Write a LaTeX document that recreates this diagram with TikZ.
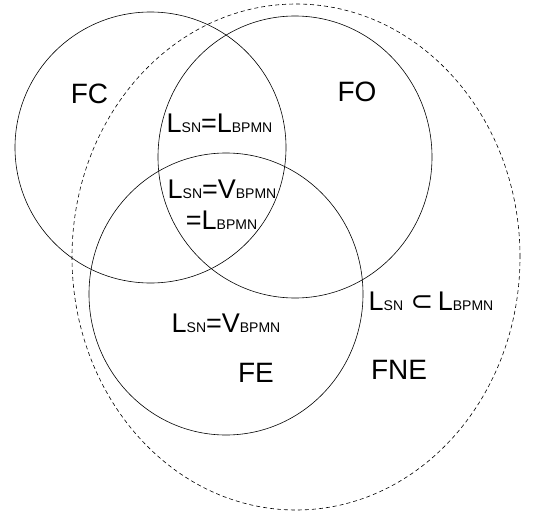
\documentclass[tikz,border=0pt]{standalone}
\usepackage{fontspec}
\setmainfont{Liberation Sans}
\newfontfamily\symfont{DejaVu Sans}
\usepackage{tikz}

\newcommand{\lab}[1]{{\fontsize{14}{14}\selectfont #1}}
\newcommand{\lsn}{L\lab{SN}}
\newcommand{\lbpmn}{L\lab{BPMN}}
\newcommand{\vbpmn}{V\lab{BPMN}}

\begin{document}
\begin{tikzpicture}[x=1pt,y=1pt]
          \tikzstyle{every node}+=[inner sep=0pt]
          \tikzstyle{setname}=[anchor=base,font=\fontsize{28}{30}\selectfont]
          \tikzstyle{lang}=[anchor=base,font=\fontsize{27}{29}\selectfont]
          \useasboundingbox (0,0) rectangle (540,-511);
          % sets
          \draw [black,line width=0.6pt] (150.5,-147.5) ellipse (135.5 and 135.5);
          \draw [black,line width=0.6pt] (295,-157) ellipse (137 and 141);
          \draw [black,line width=0.6pt] (226,-294) ellipse (137 and 141);
          \draw [black,line width=0.6pt,dash pattern=on 4pt off 3pt] (296,-257) ellipse (224 and 253);
          % labels
          \node [setname] (fc) at (89.5,-103) {FC};
          \node [setname] (fo) at (357,-101) {FO};
          \node [setname] (fe) at (256,-382) {FE};
          \node [setname] (fne) at (399,-379) {FNE};
          \node [lang] (co) at (219.5,-132.5) {\lsn=\lbpmn};
          \node [lang] (coe) at (222,-198) {\lsn=\vbpmn};
          \node [lang] (coeb) at (221.5,-229) {=\lbpmn};
          \node [lang] (e) at (226,-332) {\lsn=\vbpmn};
          \node [lang] (ne) at (431,-310) {\lsn\ {\symfont ⊂}\,\lbpmn};
          \end{tikzpicture}
\end{document}
